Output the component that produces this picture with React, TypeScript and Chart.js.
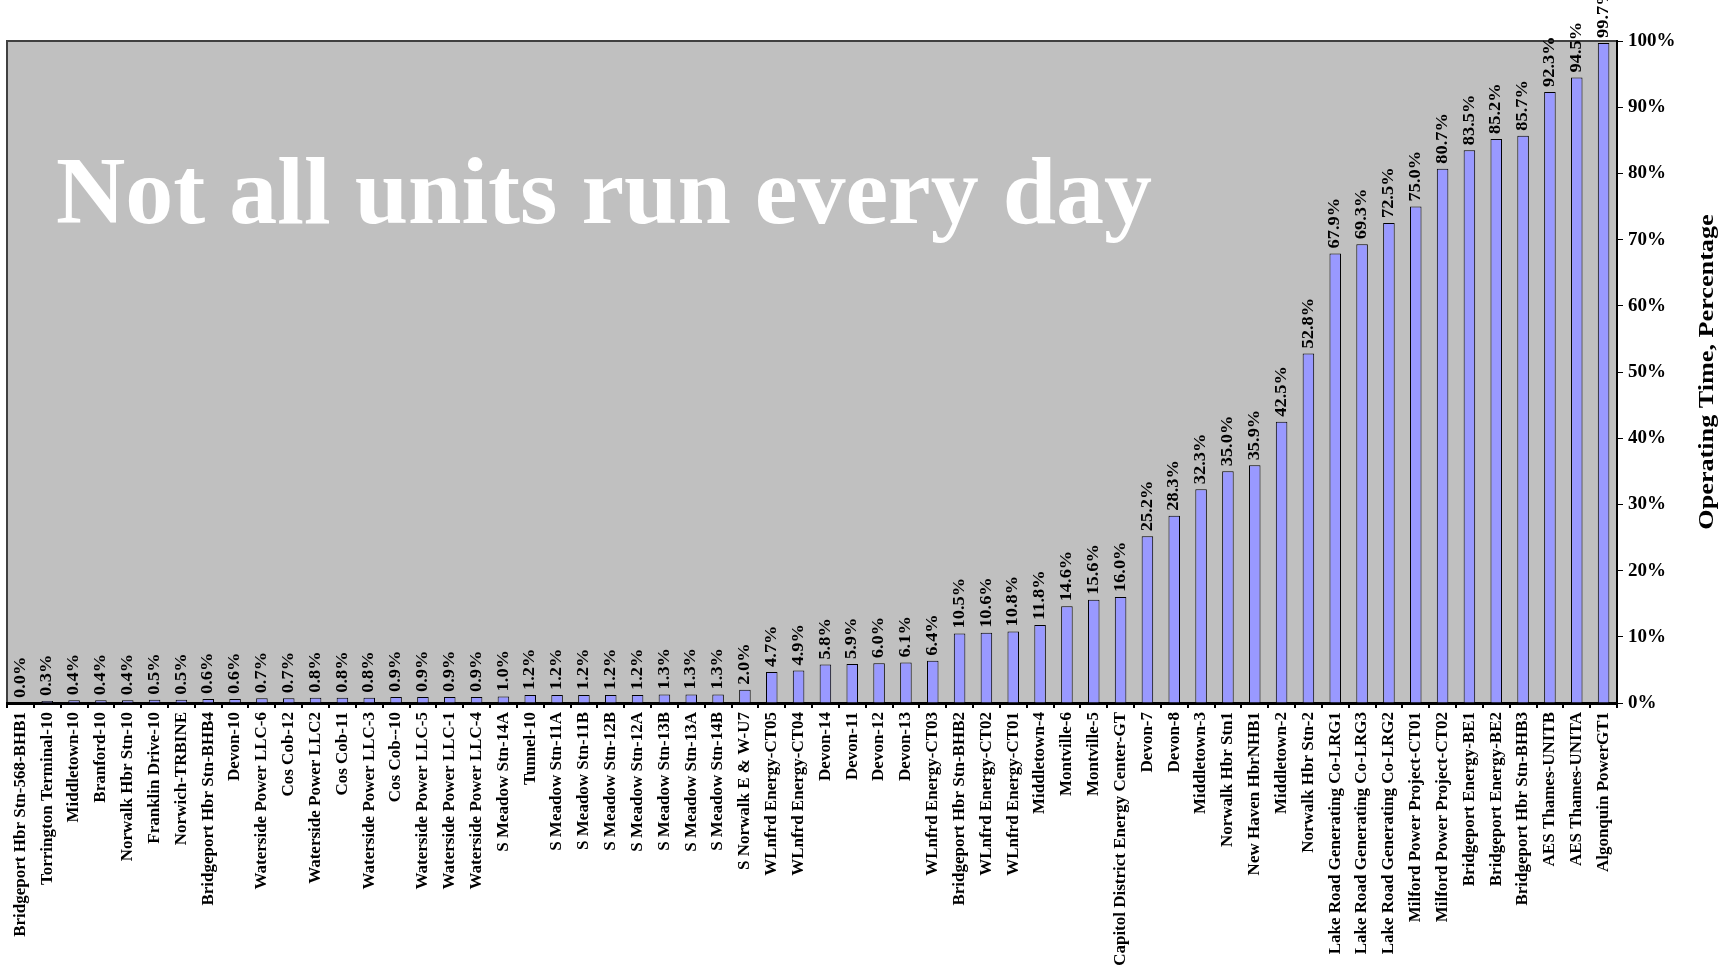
import React, { useEffect, useRef } from 'react';
import { Chart, registerables } from 'chart.js';

Chart.register(...registerables);

const units: string[] = [
  'Bridgeport Hbr Stn-568-BHB1', 'Torrington Terminal-10', 'Middletown-10', 'Branford-10',
  'Norwalk Hbr Stn-10', 'Franklin Drive-10', 'Norwich-TRBINE', 'Bridgeport Hbr Stn-BHB4',
  'Devon-10', 'Waterside Power LLC-6', 'Cos Cob-12', 'Waterside Power LLC2', 'Cos Cob-11',
  'Waterside Power LLC-3', 'Cos Cob--10', 'Waterside Power LLC-5', 'Waterside Power LLC-1',
  'Waterside Power LLC-4', 'S Meadow Stn-14A', 'Tunnel-10', 'S Meadow Stn-11A',
  'S Meadow Stn-11B', 'S Meadow Stn-12B', 'S Meadow Stn-12A', 'S Meadow Stn-13B',
  'S Meadow Stn-13A', 'S Meadow Stn-14B', 'S Norwalk E & W-U7', 'WLnfrd Energy-CT05',
  'WLnfrd Energy-CT04', 'Devon-14', 'Devon-11', 'Devon-12', 'Devon-13', 'WLnfrd Energy-CT03',
  'Bridgeport Hbr Stn-BHB2', 'WLnfrd Energy-CT02', 'WLnfrd Energy-CT01', 'Middletown-4',
  'Montville-6', 'Montville-5', 'Capitol District Energy Center-GT', 'Devon-7', 'Devon-8',
  'Middletown-3', 'Norwalk Hbr Stn1', 'New Haven HbrNHB1', 'Middletown-2', 'Norwalk Hbr Stn-2',
  'Lake Road Generating Co-LRG1', 'Lake Road Generating Co-LRG3', 'Lake Road Generating Co-LRG2',
  'Milford Power Project-CT01', 'Milford Power Project-CT02', 'Bridgeport Energy-BE1',
  'Bridgeport Energy-BE2', 'Bridgeport Hbr Stn-BHB3', 'AES Thames-UNITB', 'AES Thames-UNITA',
  'Algonquin PowerGT1',
];

const operatingPct: number[] = [
  0.0, 0.3, 0.4, 0.4, 0.4, 0.5, 0.5, 0.6, 0.6, 0.7, 0.7, 0.8, 0.8, 0.8, 0.9, 0.9, 0.9, 0.9,
  1.0, 1.2, 1.2, 1.2, 1.2, 1.2, 1.3, 1.3, 1.3, 2.0, 4.7, 4.9, 5.8, 5.9, 6.0, 6.1, 6.4,
  10.5, 10.6, 10.8, 11.8, 14.6, 15.6, 16.0, 25.2, 28.3, 32.3, 35.0, 35.9, 42.5, 52.8,
  67.9, 69.3, 72.5, 75.0, 80.7, 83.5, 85.2, 85.7, 92.3, 94.5, 99.7,
];

const yMin = 0;
const yMax = 100;
const yStep = 10;

const chartTitle = 'Not all units run every day';
const axisTitle = 'Operating Time, Percentage';

const SERIF = '"Liberation Serif", "Times New Roman", serif';

const plotBgPlugin = {
  id: 'plotBg',
  beforeDraw(chart: any) {
    const { ctx, chartArea: a } = chart;
    ctx.save();
    ctx.fillStyle = '#C0C0C0';
    ctx.fillRect(a.left, a.top, a.right - a.left, a.bottom - a.top);
    ctx.strokeStyle = '#404040';
    ctx.lineWidth = 2;
    ctx.strokeRect(a.left, a.top, a.right - a.left, a.bottom - a.top);
    ctx.restore();
  },
};

const bigTitlePlugin = {
  id: 'bigTitle',
  beforeDatasetsDraw(chart: any) {
    const { ctx, chartArea: a } = chart;
    ctx.save();
    ctx.fillStyle = '#FFFFFF';
    ctx.font = `bold 96px ${SERIF}`;
    ctx.textAlign = 'left';
    ctx.textBaseline = 'alphabetic';
    ctx.fillText(chartTitle, a.left + 49, a.top + 182);
    ctx.restore();
  },
};

const valueLabelPlugin = {
  id: 'valueLabels',
  afterDatasetsDraw(chart: any) {
    const { ctx } = chart;
    const meta = chart.getDatasetMeta(0);
    ctx.save();
    ctx.fillStyle = '#000';
    ctx.font = `bold 16px ${SERIF}`;
    ctx.textAlign = 'left';
    ctx.textBaseline = 'middle';
    meta.data.forEach((bar: any, i: number) => {
      ctx.save();
      ctx.translate(bar.x, bar.y - 5);
      ctx.rotate(-Math.PI / 2);
      ctx.scale(1.15, 1);
      ctx.fillText(operatingPct[i].toFixed(1) + '%', 0, 0);
      ctx.restore();
    });
    ctx.restore();
  },
};

const axisTitlePlugin = {
  id: 'axisTitle',
  afterDraw(chart: any) {
    const { ctx, chartArea: a } = chart;
    ctx.save();
    ctx.fillStyle = '#000';
    ctx.font = `bold 22px ${SERIF}`;
    ctx.textAlign = 'center';
    ctx.textBaseline = 'middle';
    ctx.translate(a.right + 90, (a.top + a.bottom) / 2);
    ctx.rotate(-Math.PI / 2);
    ctx.scale(1.19, 1);
    ctx.fillText(axisTitle, 0, 0);
    ctx.restore();
  },
};

export default function App() {
  const ref = useRef<HTMLCanvasElement>(null);

  useEffect(() => {
    if (!ref.current) return;
    const chart = new Chart(ref.current, {
      type: 'bar',
      data: {
        labels: units,
        datasets: [
          {
            data: operatingPct,
            backgroundColor: '#9999FF',
            borderColor: '#000000',
            borderWidth: 1,
            barPercentage: 0.43,
            categoryPercentage: 1,
          },
        ],
      },
      options: {
        animation: false,
        responsive: true,
        maintainAspectRatio: false,
        layout: { padding: { top: 41, left: 7, right: 0, bottom: 0 } },
        plugins: {
          legend: { display: false },
          tooltip: { enabled: false },
          title: { display: false },
        },
        scales: {
          x: {
            offset: true,
            grid: {
              display: true,
              drawOnChartArea: false,
              offset: true,
              tickLength: 5,
              color: '#000',
              lineWidth: 2,
            },
            border: { display: true, color: '#000', width: 3 },
            ticks: {
              autoSkip: false,
              maxRotation: 90,
              minRotation: 90,
              padding: 4,
              color: '#000',
              font: { family: SERIF, size: 17, weight: 'bold' },
            },
            afterFit: (s: any) => {
              s.height = 264;
            },
          },
          y: {
            position: 'right',
            min: yMin,
            max: yMax,
            grid: {
              display: true,
              drawOnChartArea: false,
              tickLength: 6,
              color: '#000',
              lineWidth: 1,
            },
            border: { display: true, color: '#000', width: 2 },
            ticks: {
              stepSize: yStep,
              padding: 5,
              color: '#000',
              font: { family: SERIF, size: 19, weight: 'bold' },
              callback: (v: any) => `${v}%`,
            },
            afterFit: (s: any) => {
              s.width = 117;
            },
          },
        },
      },
      plugins: [plotBgPlugin, bigTitlePlugin, valueLabelPlugin, axisTitlePlugin],
    } as any);
    return () => chart.destroy();
  }, []);

  return (
    <div style={{ position: 'fixed', left: 0, top: 0, width: 1734, height: 967, background: '#fff' }}>
      <canvas ref={ref} />
    </div>
  );
}
